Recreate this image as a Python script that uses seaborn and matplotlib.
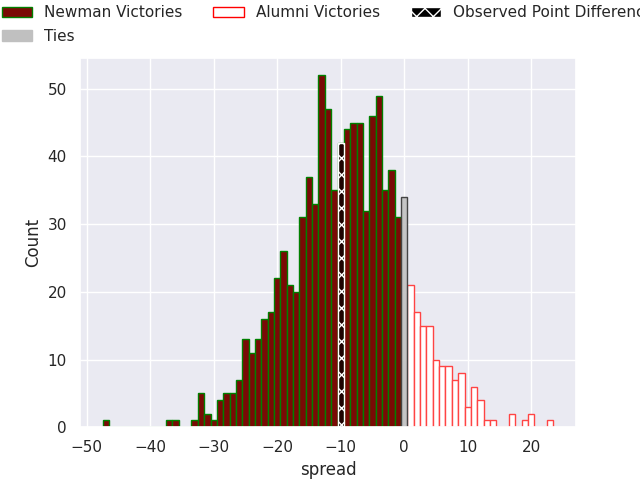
import matplotlib
matplotlib.use("Agg")
import matplotlib.pyplot as plt
import matplotlib.patches as mpatches
import numpy as np
import pandas as pd
import seaborn as sns

# point spreads (Newman minus Alumni) and how many simulated games gave each
newman_spread = [-47, -37, -36, -33, -32, -31, -30, -29, -28, -27, -26, -25, -24,
                 -23, -22, -21, -20, -19, -18, -17, -16, -15, -14, -13, -12, -11,
                 -10, -9, -8, -7, -6, -5, -4, -3, -2, -1]
newman_count = [1, 1, 1, 1, 5, 2, 1, 4, 5, 5, 7, 13, 11,
                13, 16, 17, 22, 26, 21, 20, 31, 37, 33, 52, 47, 35,
                42, 44, 45, 45, 32, 46, 49, 35, 38, 31]

alumni_spread = [1, 2, 3, 4, 5, 6, 7, 8, 9, 10, 11, 12, 13, 14, 17, 19, 20, 23]
alumni_count = [21, 17, 15, 15, 10, 9, 9, 7, 8, 3, 6, 4, 1, 1, 2, 1, 2, 1]

tie_spread = [0]
tie_count = [34]

observed_spread = [-10]
observed_count = [42]

sns.set_theme(style="darkgrid")
plt.rcParams['font.family'] = ['DejaVu Sans']

fig, ax = plt.subplots(figsize=(6.4, 4.8), dpi=100)

sns.histplot(x=newman_spread, weights=newman_count, discrete=True, ax=ax,
             color="#7a0a05", edgecolor="green", linewidth=1, alpha=1)
sns.histplot(x=alumni_spread, weights=alumni_count, discrete=True, ax=ax,
             color="white", edgecolor="#ff4444", linewidth=1, alpha=1)
sns.histplot(x=tie_spread, weights=tie_count, discrete=True, ax=ax,
             color="silver", edgecolor="#444444", linewidth=1, alpha=0.9)
sns.histplot(x=observed_spread, weights=observed_count, discrete=True, ax=ax,
             color="black", edgecolor="white", hatch="xx", linewidth=1, alpha=0.75)

ax.set_xlabel("spread")
ax.set_ylabel("Count")

handles = [
    mpatches.Patch(facecolor="#7a0a05", edgecolor="green", label="Newman Victories"),
    mpatches.Patch(facecolor="silver", edgecolor="silver", label="Ties"),
    mpatches.Patch(facecolor="white", edgecolor="red", label="Alumni Victories"),
    mpatches.Patch(facecolor="black", edgecolor="white", hatch="xx",
                   label="Observed Point Difference"),
]
ax.legend(handles=handles, loc="lower center", bbox_to_anchor=(0.5, 1.0),
          ncol=3, frameon=False, labelspacing=0.55)

fig.savefig("out.png", dpi=100)
